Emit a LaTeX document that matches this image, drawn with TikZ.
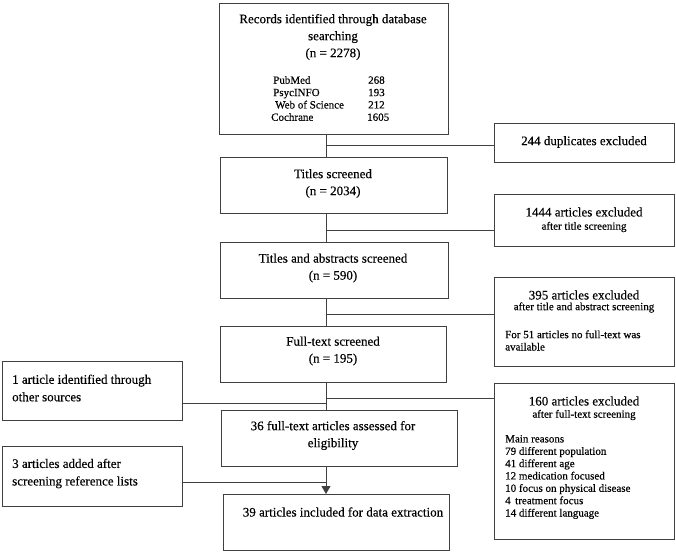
\documentclass[tikz,border=0pt]{standalone}
\usepackage{fontspec}
\setmainfont{Liberation Serif}[FakeBold=0.35]
\usetikzlibrary{arrows.meta}
\tikzset{
  box/.style={draw=black!75, line width=0.9pt, rectangle, anchor=north west, inner sep=0pt},
  big/.style={font=\fontsize{13}{17}\selectfont, align=center, inner sep=0pt, text=black},
  bigl/.style={font=\fontsize{13}{17.5}\selectfont, align=left, inner sep=0pt, text=black, anchor=west},
  small/.style={font=\fontsize{11}{12.4}\selectfont, align=center, inner sep=0pt, text=black},
  smalll/.style={font=\fontsize{11}{12.35}\selectfont, align=left, inner sep=0pt, text=black, anchor=west},
  link/.style={draw=black!75, line width=0.9pt},
}
\begin{document}
\begin{tikzpicture}[x=1pt,y=-1pt]
\useasboundingbox (0,0) rectangle (676,552);
% boxes
\node[box, minimum width=229pt, minimum height=131pt] (A) at (219,3) {};
\node[box, minimum width=180pt, minimum height=39pt] (X244) at (494,123) {};
\node[box, minimum width=227pt, minimum height=56pt] (B) at (220,157) {};
\node[box, minimum width=180pt, minimum height=52pt] (X1444) at (494,194) {};
\node[box, minimum width=228pt, minimum height=56pt] (D) at (220,242) {};
\node[box, minimum width=180pt, minimum height=89pt] (X395) at (494,277) {};
\node[box, minimum width=226pt, minimum height=56pt] (E) at (220,326) {};
\node[box, minimum width=180pt, minimum height=156pt] (X160) at (494,383) {};
\node[box, minimum width=180pt, minimum height=59pt] (L1) at (2,361) {};
\node[box, minimum width=236pt, minimum height=56pt] (F) at (221,410) {};
\node[box, minimum width=180pt, minimum height=60pt] (L3) at (2,446) {};
\node[box, minimum width=226pt, minimum height=56pt] (G) at (223,494) {};
% texts
\node[big] (tA) at (333,37) {Records identified through database\\searching\\(n = 2278)};
\node[smalll] (tAlist) at (273,98.5) {\makebox[95pt][l]{PubMed}268\\
\makebox[95pt][l]{PsycINFO}193\\
\makebox[95pt][l]{\hspace*{2pt}Web of Science}212\\
\makebox[95pt][l]{\hspace*{-2pt}Cochrane}\hspace*{-1pt}1605};
\node[big] (t244) at (584,142) {244 duplicates excluded};
\node[big] (tB) at (333,183.5) {Titles screened\\(n = 2034)};
\node[big] (t1444a) at (584,212) {1444 articles excluded};
\node[small] (t1444b) at (584,227) {after title screening};
\node[big] (tD) at (333,268) {Titles and abstracts screened\\(n = 590)};
\node[big] (t395a) at (584,295) {395 articles excluded};
\node[small] (t395b) at (584,307.5) {after title and abstract screening};
\node[smalll] (t395c) at (505,340.5) {For 51 articles no full-text was\\available};
\node[big] (tE) at (333,351) {Full-text screened\\(n = 195)};
\node[big] (t160a) at (584,401) {160 articles excluded};
\node[small] (t160b) at (584,415) {after full-text screening};
\node[smalll] (t160c) at (505,477) {Main reasons\\79 different population\\41 different age\\12 medication focused\\10 focus on physical disease\\4\hspace{4.5pt}treatment focus\\14 different language};
\node[bigl] (tL1) at (12,388) {1 article identified through\\other sources};
\node[big] (tF) at (333,435.5) {36 full-text articles assessed for\\eligibility};
\node[bigl] (tL3) at (12,473.5) {3 articles added after\\screening reference lists};
\node[big] (tG) at (343,512) {39 articles included for data extraction};
% connectors
\coordinate (sp) at (326,0);
\coordinate (j1) at (326,145);
\coordinate (j2) at (326,230);
\coordinate (j3) at (326,314);
\coordinate (j4) at (326,398);
\coordinate (j5) at (326,403);
\coordinate (j6) at (326,482);
\draw[link] (A.south -| sp) -- (B.north -| sp);
\draw[link] (j1) -- (j1 -| X244.west);
\draw[link] (B.south -| sp) -- (D.north -| sp);
\draw[link] (j2) -- (j2 -| X1444.west);
\draw[link] (D.south -| sp) -- (E.north -| sp);
\draw[link] (j3) -- (j3 -| X395.west);
\draw[link] (E.south -| sp) -- (F.north -| sp);
\draw[link] (j4) -- (j4 -| X160.west);
\draw[link] (L1.east |- j5) -- (j5);
\draw[link, -{Triangle[length=8pt,width=9pt]}] (F.south -| sp) -- (G.north -| sp);
\draw[link] (L3.east |- j6) -- (j6);
\end{tikzpicture}
\end{document}
